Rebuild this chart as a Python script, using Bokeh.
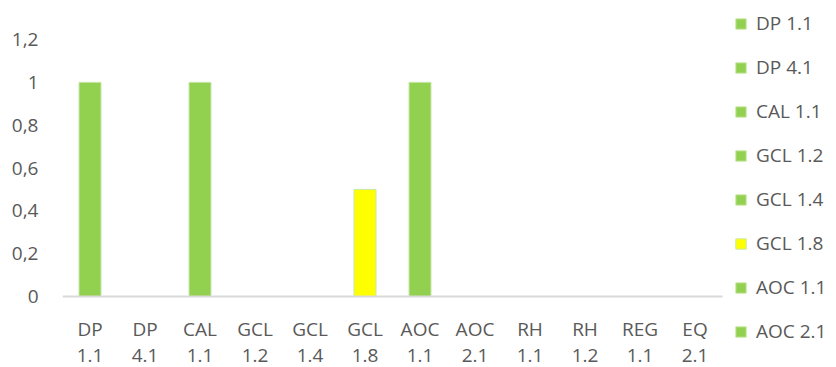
from bokeh.plotting import figure
from bokeh.models import (Range1d, FixedTicker, CustomJSTickFormatter,
                          Legend, LegendItem, ColumnDataSource)
from bokeh.core.properties import value
from bokeh.embed import file_html
from bokeh.resources import INLINE

# ---- data ----
categories = ["DP 1.1", "DP 4.1", "CAL 1.1", "GCL 1.2", "GCL 1.4", "GCL 1.8",
              "AOC 1.1", "AOC 2.1", "RH 1.1", "RH 1.2", "REG 1.1", "EQ 2.1"]
values = [1, 0, 1, 0, 0, 0.5, 1, 0, 0, 0, 0, 0]
bar_colors = ["#92D050", "#92D050", "#92D050", "#92D050", "#92D050", "#FFFF00",
              "#92D050", "#92D050", "#92D050", "#92D050", "#92D050", "#92D050"]
y_ticks = [0, 0.2, 0.4, 0.6, 0.8, 1, 1.2]
legend_count = 8

TEXT = "#595959"
FONT = "Open Sans"
FS = "19px"

xi = list(range(len(categories)))
names = [c.split(" ")[0] for c in categories]
nums = [c.split(" ")[1] for c in categories]
source = ColumnDataSource(dict(xi=xi, cat=categories, val=values, color=bar_colors,
                               name=names, num=nums, zero=[0] * len(categories)))

# frame covers the whole area right of the y axis (so the legend and the
# category labels are not clipped); 0 sits 71px above the bottom edge
PX_PER_UNIT = 257 / 1.2
p = figure(width=836, height=367, output_backend="svg", toolbar_location=None,
           x_range=Range1d(-0.5, -0.5 + (836 - 62) / 55),
           y_range=Range1d(-71 / PX_PER_UNIT, 296 / PX_PER_UNIT),
           x_axis_location=None,
           min_border_left=62, min_border_right=0, min_border_top=0,
           min_border_bottom=0)

r = p.vbar(x="xi", top="val", width=0.4, fill_color="color",
           line_color="#c9e8a8", line_width=1, source=source)

# category axis baseline
p.segment(x0=xi[0] - 0.5, y0=0, x1=xi[-1] + 0.5, y1=0, line_color="#d9d9d9", line_width=2)

# two-line category labels
p.text(x="xi", y="zero", text="name", source=source, y_offset=32,
       text_align="center", text_baseline="middle", text_font=value(FONT),
       text_font_size=FS, text_color=TEXT)
p.text(x="xi", y="zero", text="num", source=source, y_offset=59,
       text_align="center", text_baseline="middle", text_font=value(FONT),
       text_font_size=FS, text_color=TEXT)

p.outline_line_color = None
p.xgrid.visible = False
p.ygrid.visible = False
p.background_fill_color = "white"
p.border_fill_color = "white"

# y axis
ya = p.yaxis[0]
ya.ticker = FixedTicker(ticks=y_ticks)
ya.formatter = CustomJSTickFormatter(code="return tick.toString().replace('.', ',');")
ya.axis_line_color = None
ya.major_tick_line_color = None
ya.minor_tick_line_color = None
ya.major_tick_out = 0
ya.major_tick_in = 0
ya.major_label_standoff = 24
ya.major_label_text_font = FONT
ya.major_label_text_font_size = FS
ya.major_label_text_color = TEXT

# legend
items = [LegendItem(label=categories[i], renderers=[r], index=i) for i in range(legend_count)]
legend = Legend(items=items, location=(672, 23), orientation="vertical",
                glyph_width=13, glyph_height=13, label_height=20, spacing=18,
                label_standoff=9, padding=10, margin=0,
                label_text_font=FONT, label_text_font_size=FS,
                label_text_color=TEXT, background_fill_alpha=0,
                border_line_color=None)
p.add_layout(legend, "center")

open("out.html", "w").write(file_html(p, INLINE))
